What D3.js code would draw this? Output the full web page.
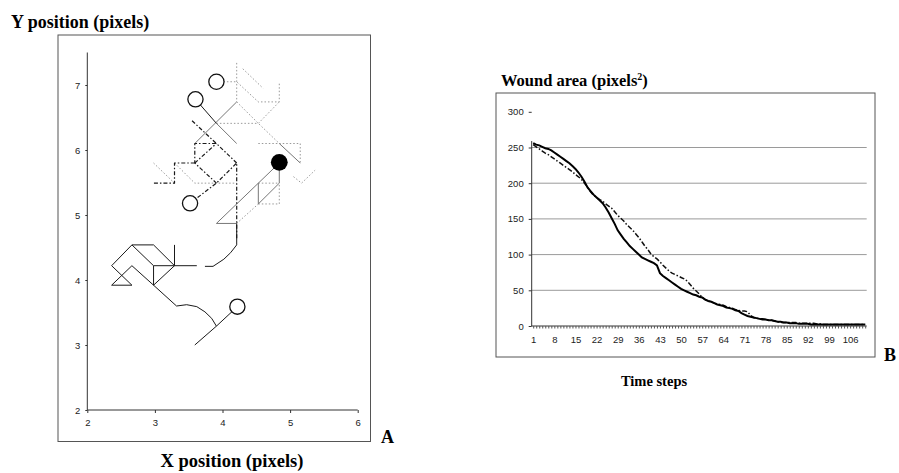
<!DOCTYPE html>
<html>
<head>
<meta charset="utf-8">
<script src="https://cdn.jsdelivr.net/npm/d3@7"></script>
<style>
  body { margin: 0; background: #fff; }
  svg { display: block; }
  .tick text { font-family: "Liberation Sans", Arial, sans-serif; font-size: 9.5px; fill: #222; }
  .title { font-family: "Liberation Serif", "Times New Roman", serif; font-weight: bold; fill: #000; }
</style>
</head>
<body>
<svg id="fig" width="899" height="473"></svg>
<script>
// ---------- Panel A: cell trajectories on the lattice (positions in pixels) ----------
const startCells = [[3.91, 7.05], [3.60, 6.78], [3.52, 5.18], [4.22, 3.59]];
const woundCentre = [4.84, 5.81];

// black solid track (lower cell, migrating up to the wound centre)
const solidTracks = [
  [[4.22, 3.59], [3.91, 3.29], [3.59, 3.00]],
  [[3.91, 3.29], [3.84, 3.41], [3.74, 3.51], [3.62, 3.59], [3.47, 3.62], [3.32, 3.60],
   [2.98, 3.92], [2.66, 4.22], [2.36, 3.92], [2.66, 3.92], [2.36, 4.22], [2.66, 4.54],
   [2.98, 4.54], [3.29, 4.22], [2.98, 3.92], [2.98, 4.22], [2.66, 4.54]],
  [[2.98, 4.22], [3.29, 4.22], [3.29, 4.54]],
  [[3.29, 4.22], [3.62, 4.22]],
  [[3.74, 4.21], [3.86, 4.21], [4.02, 4.32], [4.12, 4.42], [4.21, 4.54], [4.21, 4.87]],
  [[3.60, 6.78], [3.91, 6.41]]
];

// grey solid segments
const greySolidTracks = [
  [[4.21, 4.87], [3.91, 4.87], [4.84, 5.80]],
  [[3.91, 6.41], [4.21, 6.10]],
  [[3.59, 6.10], [4.21, 6.74]],
  [[4.84, 5.80], [4.84, 5.49], [4.53, 5.17], [4.53, 5.49]],
  [[4.84, 6.10], [5.15, 5.80]]
];

// black dash-dot track
const dashDotTracks = [
  [[3.52, 5.18], [3.91, 5.49], [4.21, 5.80], [4.21, 4.62]],
  [[4.21, 5.80], [3.91, 6.10], [3.59, 6.10], [3.59, 5.80], [3.91, 5.49]],
  [[3.59, 5.80], [3.91, 6.10]],
  [[3.55, 6.45], [3.91, 6.10]],
  [[3.59, 5.80], [3.29, 5.80], [3.29, 5.49], [2.98, 5.49]]
];

// light grey dotted tracks
const dottedTracks = [
  [[3.91, 7.05], [4.21, 7.05], [4.53, 6.74], [4.84, 6.74], [4.84, 7.05]],
  [[4.21, 7.34], [4.21, 6.74]],
  [[4.30, 7.25], [4.60, 6.95]],
  [[3.91, 6.41], [4.53, 6.41]],
  [[4.21, 6.74], [4.53, 6.41], [4.84, 6.10], [5.15, 6.10], [5.15, 5.80]],
  [[4.53, 6.41], [4.84, 6.74]],
  [[4.53, 6.10], [4.84, 6.10]],
  [[5.05, 5.59], [5.17, 5.49], [5.37, 5.69]],
  [[2.98, 5.80], [3.29, 5.49]],
  [[3.29, 5.80], [3.59, 5.49], [4.21, 5.49]],
  [[4.53, 5.49], [4.84, 5.49]],
  [[4.53, 5.17], [4.84, 5.17], [4.84, 5.49]],
  [[4.21, 4.87], [4.53, 5.17]]
];

const xTicksA = [2, 3, 4, 5, 6];
const yTicksA = [2, 3, 4, 5, 6, 7];

// ---------- Panel B: wound area over time ----------
const solidArea = [
  256, 254, 253, 251, 249, 248, 246, 243, 240, 237,
  234, 231, 228, 224, 220, 215, 209, 202, 194, 189,
  184, 180, 176, 172, 166, 159, 151, 143, 134, 128,
  122, 117, 112, 108, 104, 100, 96, 94, 92, 90,
  88, 85, 74, 70, 67, 64, 61, 58, 55, 52,
  50, 48, 46, 44, 43, 41, 40, 37, 35, 34,
  32, 30, 29, 28, 26, 25, 24, 22, 21, 18,
  16, 14, 13, 12, 11, 10, 9, 9, 8, 8,
  7, 6, 6, 5, 5, 4, 4, 4, 3, 3,
  3, 3, 2, 2, 2, 2, 2, 2, 2, 2,
  2, 2, 2, 2, 2, 2, 2, 2, 2, 2,
  2
];
const dashedArea = [
  254, 251, 248, 245, 242, 240, 237, 234, 231, 228,
  225, 222, 219, 216, 212, 209, 205, 200, 195, 188,
  183, 180, 177, 175, 171, 168, 165, 160, 155, 151,
  147, 142, 138, 134, 129, 124, 118, 112, 107, 101,
  97, 94, 90, 85, 81, 77, 74, 72, 70, 68,
  66, 63, 58, 53, 49, 45, 40, 37, 35, 34,
  32, 31, 30, 29, 27, 26, 25, 23, 22, 21,
  21, 20, 15, 12, 11, 10, 10, 9, 8, 8,
  7, 6, 5, 5, 5, 5, 5, 5, 4, 4,
  4, 4, 4, 4, 3, 3, 2, 2, 2, 2,
  2, 2, 2, 2, 2, 2, 2, 2, 2, 2,
  2
];
const timeSteps = solidArea.map((_, i) => i + 1);
const areaTicks = [0, 50, 100, 150, 200, 250, 300];
const gridValues = [50, 100, 150, 200, 250];

const svg = d3.select("#fig");

// ===================== Panel A =====================
const gA = svg.append("g");
const xA = d3.scaleLinear().domain([2, 6]).range([87.3, 357.7]);
const yA = d3.scaleLinear().domain([2, 7.5]).range([410, 52.5]);

// frame
gA.append("rect").attr("x", 58).attr("y", 35).attr("width", 312.5).attr("height", 406.5)
  .attr("fill", "none").attr("stroke", "#555").attr("stroke-width", 1);

const axA = gA.append("g").attr("transform", `translate(0,${yA(2)})`)
  .call(d3.axisBottom(xA).tickValues(xTicksA).tickSize(3).tickPadding(6.5).tickFormat(d3.format("d")));
const ayA = gA.append("g").attr("transform", `translate(${xA(2)},0)`)
  .call(d3.axisLeft(yA).tickValues(yTicksA).tickSize(2).tickPadding(5).tickFormat(d3.format("d")));
[axA, ayA].forEach(a => {
  a.select(".domain").attr("stroke", "#333");
  a.selectAll(".tick line").attr("stroke", "#333");
});
ayA.select(".domain").attr("d", `M0,${yA(7.5)}V${yA(2)}`);
axA.select(".domain").attr("d", `M${xA(2)},0H${xA(6)}`);

const lineA = d3.line().x(d => xA(d[0])).y(d => yA(d[1]));
const drawTracks = (tracks, stroke, width, dash) => {
  gA.append("g").selectAll("path").data(tracks).join("path")
    .attr("d", lineA).attr("fill", "none").attr("stroke", stroke)
    .attr("stroke-width", width).attr("stroke-dasharray", dash)
    .attr("stroke-linejoin", "round");
};
drawTracks(dottedTracks, "#9a9a9a", 1, "1.5,2");
drawTracks(greySolidTracks, "#777", 1, null);
drawTracks(dashDotTracks, "#1a1a1a", 1.2, "4,2,1.5,2");
drawTracks(solidTracks, "#1a1a1a", 1, null);

gA.append("g").selectAll("circle").data(startCells).join("circle")
  .attr("cx", d => xA(d[0])).attr("cy", d => yA(d[1])).attr("r", 7.6)
  .attr("fill", "#fff").attr("stroke", "#111").attr("stroke-width", 1.3);
gA.append("circle").attr("cx", xA(woundCentre[0])).attr("cy", yA(woundCentre[1]))
  .attr("r", 8.4).attr("fill", "#000");

gA.append("text").attr("class", "title").attr("x", 11).attr("y", 28)
  .style("font-size", "18px").text("Y position (pixels)");
gA.append("text").attr("class", "title").attr("x", 232).attr("y", 467)
  .attr("text-anchor", "middle").style("font-size", "18.5px").text("X position (pixels)");
gA.append("text").attr("class", "title").attr("x", 381).attr("y", 443)
  .style("font-size", "18px").text("A");

// ===================== Panel B =====================
const gB = svg.append("g");
const xB = d3.scalePoint().domain(timeSteps).range([531.7, 866.7]).padding(0.5);
const yB = d3.scaleLinear().domain([0, 300]).range([326, 111.8]);

gB.append("rect").attr("x", 496).attr("y", 93).attr("width", 379).attr("height", 264)
  .attr("fill", "none").attr("stroke", "#555").attr("stroke-width", 1);

// horizontal gridlines
gB.append("g").selectAll("line").data(gridValues).join("line")
  .attr("x1", 531.7).attr("x2", 866.7)
  .attr("y1", d => yB(d)).attr("y2", d => yB(d))
  .attr("stroke", "#9a9a9a").attr("stroke-width", 1);

const ayB = gB.append("g").attr("transform", "translate(531.7,0)")
  .call(d3.axisLeft(yB).tickValues(areaTicks).tickSize(3).tickPadding(5));
ayB.select(".domain").attr("d", `M0,${yB(0)}V${yB(259)}`).attr("stroke", "#333");
ayB.selectAll(".tick line").attr("stroke", "#333");

const axB = gB.append("g").attr("transform", `translate(0,${yB(0)})`)
  .call(d3.axisBottom(xB).tickValues(timeSteps).tickSize(2.5).tickPadding(7.5)
    .tickFormat(d => (d - 1) % 7 === 0 ? d : ""));
axB.select(".domain").attr("d", "M531.7,0H866.7").attr("stroke", "#333");
axB.selectAll(".tick line").attr("stroke", "#555");

const lineB = d3.line().x((d, i) => xB(timeSteps[i])).y(d => yB(d));
gB.append("path").datum(dashedArea).attr("d", lineB).attr("fill", "none")
  .attr("stroke", "#111").attr("stroke-width", 1.5).attr("stroke-dasharray", "5,2,1.5,2");
gB.append("path").datum(solidArea).attr("d", lineB).attr("fill", "none")
  .attr("stroke", "#000").attr("stroke-width", 2);

const tB = gB.append("text").attr("class", "title").attr("x", 501).attr("y", 86)
  .style("font-size", "16.5px");
tB.append("tspan").text("Wound area (pixels");
tB.append("tspan").attr("dy", -6).style("font-size", "10px").text("2");
tB.append("tspan").attr("dy", 6).text(")");
gB.append("text").attr("class", "title").attr("x", 654).attr("y", 386)
  .attr("text-anchor", "middle").style("font-size", "14.5px").text("Time steps");
gB.append("text").attr("class", "title").attr("x", 884).attr("y", 361)
  .style("font-size", "18px").text("B");
</script>
</body>
</html>
